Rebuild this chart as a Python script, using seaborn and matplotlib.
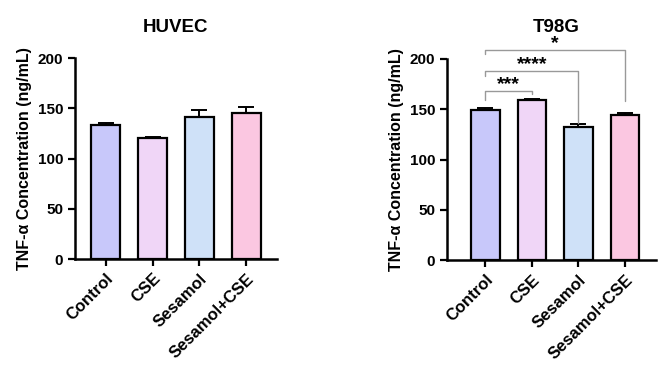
import matplotlib
matplotlib.use("Agg")
import matplotlib.pyplot as plt
import seaborn as sns
import pandas as pd
import numpy as np

categories = ["Control", "CSE", "Sesamol", "Sesamol+CSE"]
huvec_mean = [133.5, 120.7, 141.5, 145.5]
huvec_err = [2.0, 0.5, 6.5, 6.0]
t98g_mean = [149.5, 159.0, 132.5, 144.5]
t98g_err = [1.3, 1.0, 2.4, 1.3]
colors = ["#C8C8FA", "#F0D6F7", "#CFE1F8", "#FBC7E1"]
yticks = [0, 50, 100, 150, 200]
# significance: (i, j, bracket top, left leg bottom, right leg bottom, label)
t98g_sig = [(0, 1, 168, 159, 165, "***"),
            (0, 2, 188, 183, 136, "****"),
            (0, 3, 209, 205, 158, "*")]

sns.set_theme(style="ticks")
plt.rcParams["font.family"] = ["Liberation Sans", "DejaVu Sans"]
plt.rcParams["font.weight"] = "bold"
plt.rcParams["text.color"] = "black"
plt.rcParams["axes.labelcolor"] = "black"
plt.rcParams["xtick.color"] = "black"
plt.rcParams["ytick.color"] = "black"

fig = plt.figure(figsize=(6.69, 3.68), dpi=100)
ax1 = fig.add_axes([0.112, 0.296, 0.302, 0.546])
ax2 = fig.add_axes([0.668, 0.293, 0.312, 0.547])


def draw(ax, means, errs, title, xlim, title_x=0.5):
    df = pd.DataFrame({"cat": categories, "val": means})
    sns.barplot(data=df, x="cat", y="val", hue="cat", palette=colors,
                order=categories, hue_order=categories, legend=False,
                width=0.62, edgecolor="black", linewidth=1.6, ax=ax,
                errorbar=None, saturation=1, zorder=2)
    x = np.arange(len(categories))
    ax.errorbar(x, means, yerr=[np.zeros(len(errs)), errs], fmt="none",
                ecolor="black", elinewidth=1.4, capsize=6, capthick=1.4,
                zorder=1)
    ax.set_ylim(0, 200)
    ax.set_xlim(*xlim)
    ax.set_yticks(yticks)
    ax.set_xlabel("")
    ax.set_ylabel("TNF-α Concentration (ng/mL)", fontsize=11.5,
                  fontweight="bold", labelpad=4, color="black")
    t = ax.set_title(title, fontsize=13.5, fontweight="bold", pad=19,
                     color="black")
    t.set_x(title_x)
    sns.despine(ax=ax)
    for s in ["left", "bottom"]:
        ax.spines[s].set_linewidth(1.8)
        ax.spines[s].set_color("black")
    ax.tick_params(axis="both", width=1.6, length=5, color="black",
                   labelcolor="black")
    ax.tick_params(axis="y", labelsize=11)
    ax.tick_params(axis="x", labelsize=12)
    ax.set_xticks(x)
    ax.set_xticklabels(categories, rotation=45, ha="right",
                       rotation_mode="anchor", fontweight="bold")
    for lab in ax.get_yticklabels():
        lab.set_fontweight("bold")
    ax.patch.set_alpha(0)


draw(ax1, huvec_mean, huvec_err, "HUVEC", (-0.66, 3.66))
draw(ax2, t98g_mean, t98g_err, "T98G", (-0.83, 3.66), title_x=0.526)

for i, j, top, lb, rb, lab in t98g_sig:
    ax2.plot([i, i, j, j], [lb, top, top, rb], color="#999999", lw=1.0,
             clip_on=False, zorder=3)
    ax2.text((i + j) / 2, top + 2, lab, ha="center", va="baseline",
             fontsize=14, fontweight="bold", clip_on=False)

fig.savefig("out.png", dpi=100)
